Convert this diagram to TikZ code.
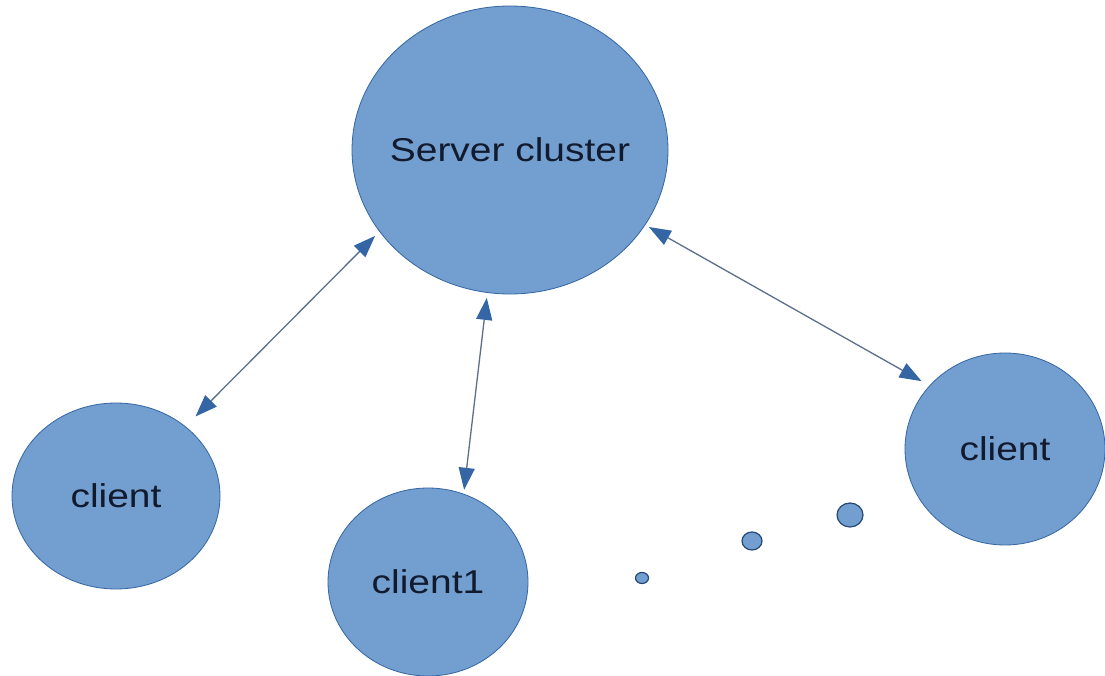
\documentclass[tikz,border=0pt]{standalone}
\usepackage{fontspec}
\setmainfont{Liberation Sans}
\usetikzlibrary{shapes.geometric,arrows.meta}
\definecolor{nodefill}{HTML}{729FCF}
\definecolor{nodeborder}{HTML}{3465A4}
\definecolor{txt}{HTML}{121A2E}
\definecolor{linec}{HTML}{5C6F8C}
\newcommand{\lbl}[1]{\makebox[0pt]{\scalebox{1.18}[1]{#1}}}
\begin{document}
\begin{tikzpicture}[x=1pt,y=-1pt,
  blob/.style={ellipse,draw=nodeborder,line width=0.8pt,fill=nodefill,inner sep=0pt,
    text=txt,font=\fontsize{33}{36}\selectfont},
  dotn/.style={ellipse,draw=nodeborder!70!black,line width=1.2pt,fill=nodefill,inner sep=0pt},
  conn/.style={draw=linec,line width=1.3pt,
    {Triangle[length=22pt,width=16pt,fill=nodeborder,color=nodeborder]}-{Triangle[length=22pt,width=16pt,fill=nodeborder,color=nodeborder]}}]
\useasboundingbox[fill=white] (0,0) rectangle (1105,676);
\node[blob,minimum width=316pt,minimum height=288pt] (srv) at (510,150) {\lbl{Server cluster}};
\node[blob,minimum width=208pt,minimum height=186pt] (cl) at (116,496) {\lbl{client}};
\node[blob,minimum width=200pt,minimum height=188pt] (c1) at (428,582) {\lbl{client1}};
\node[blob,minimum width=200pt,minimum height=192pt] (cr) at (1005,449) {\lbl{client}};
\node[dotn,minimum width=13pt,minimum height=11pt] (d1) at (642,578) {};
\node[dotn,minimum width=20pt,minimum height=18pt] (d2) at (752,541) {};
\node[dotn,minimum width=26pt,minimum height=24pt] (d3) at (850,515) {};
\draw[conn,shorten <=6pt,shorten >=14pt] (srv.212) -- (cl.45);
\draw[conn,shorten <=5pt,shorten >=4pt] (srv.261.5) -- (c1.68);
\draw[conn,shorten <=4pt,shorten >=9pt] (srv.331.8) -- (cr.140);
\end{tikzpicture}
\end{document}
